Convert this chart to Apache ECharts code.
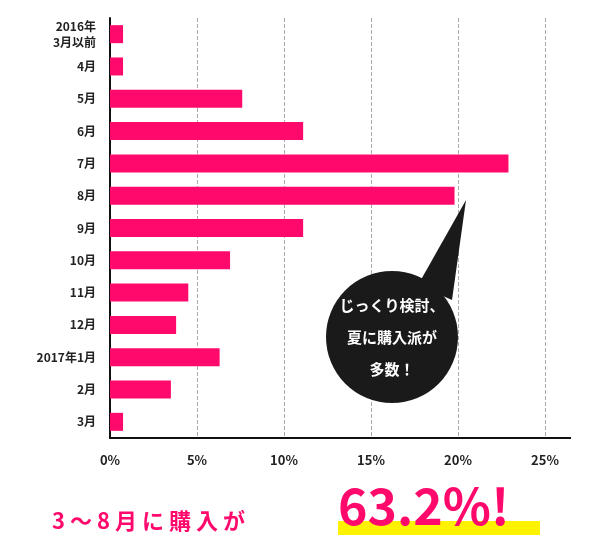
<!DOCTYPE html>
<html>
<head>
<meta charset="utf-8">
<script src="https://cdn.jsdelivr.net/npm/echarts@6/dist/echarts.min.js"></script>
<style>html,body{margin:0;background:#fff}#chart{width:600px;height:548px}</style>
</head>
<body>
<div id="chart"></div>
<script>
var categories = ['2016年\n3月以前','4月','5月','6月','7月','8月','9月','10月','11月','12月','2017年1月','2月','3月'];
var shares = [0.75, 0.75, 7.6, 11.1, 22.9, 19.8, 11.1, 6.9, 4.5, 3.8, 6.3, 3.5, 0.75];
var tickLabels = ['0%','5%','10%','15%','20%','25%'];

var pink = '#ff0a6c';
var font = '"Noto Sans CJK JP", sans-serif';
var chart = echarts.init(document.getElementById('chart'));

chart.setOption({
    animation: false,
    grid: {left: 110, right: 55, top: 18, bottom: 110},
    xAxis: {
        type: 'value', min: 0, max: 25, interval: 5,
        axisLine: {show: true, lineStyle: {color: '#111', width: 2}},
        axisTick: {show: false},
        splitLine: {lineStyle: {color: '#aaa', type: 'dashed'}},
        axisLabel: {
            margin: 16, color: '#222', fontWeight: 'bold', fontSize: 13, fontFamily: font,
            formatter: function (v) { return tickLabels[v / 5]; }
        }
    },
    yAxis: {
        type: 'category', inverse: true, data: categories,
        axisLine: {lineStyle: {color: '#111', width: 2}},
        axisTick: {show: false},
        axisLabel: {color: '#222', fontWeight: 'bold', fontSize: 12, fontFamily: font, margin: 14, lineHeight: 16}
    },
    series: [{
        type: 'bar', data: shares, barWidth: 18,
        itemStyle: {color: pink}
    }],
    graphic: [
        {type: 'line', z: 5, shape: {x1: 544, y1: 438, x2: 571, y2: 438}, style: {stroke: '#111', lineWidth: 2}},
        // 吹き出し
        {type: 'polygon', z: 10, shape: {points: [[418, 285], [466, 200], [452, 300]]}, style: {fill: '#1a1a1a'}},
        {type: 'circle', z: 10, shape: {cx: 392, cy: 337, r: 66}, style: {fill: '#1a1a1a'}},
        {type: 'text', z: 11, x: 392, y: 337, style: {
            text: 'じっくり検討、\n夏に購入派が\n多数！', fill: '#fff', fontSize: 15, fontWeight: 'bold',
            fontFamily: font, align: 'center', verticalAlign: 'middle', lineHeight: 32
        }},
        // 下のまとめ
        {type: 'rect', z: 10, shape: {x: 338, y: 521, width: 202, height: 14}, style: {fill: '#fff200'}},
        {type: 'text', z: 11, x: 52, y: 521, style: {
            text: '3 ～ 8 月 に 購 入 が', fill: pink, fontSize: 22, fontWeight: 'bold',
            fontFamily: font, verticalAlign: 'middle'
        }},
        {type: 'text', z: 11, x: 338, y: 506, style: {
            text: '63.2%!', fill: pink, fontSize: 50, fontWeight: 'bold',
            fontFamily: font, verticalAlign: 'middle'
        }}
    ]
});
</script>
</body>
</html>
